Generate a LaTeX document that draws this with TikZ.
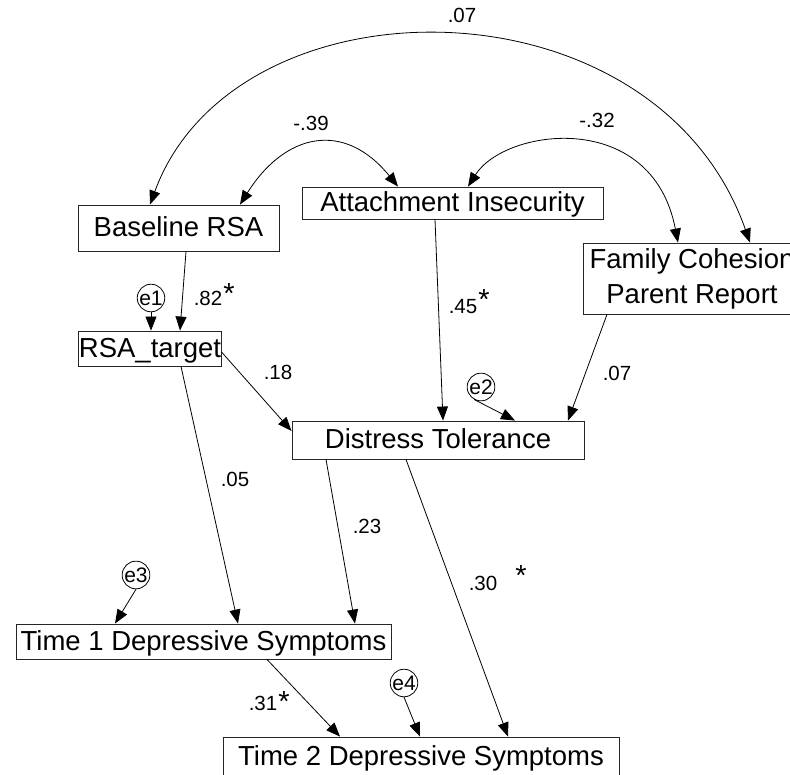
\documentclass[tikz,border=0pt]{standalone}
\usepackage{fontspec}
\setmainfont{Liberation Sans}
\usetikzlibrary{arrows.meta}

\tikzset{
  varbox/.style={draw=black!85, line width=0.9pt, inner sep=0pt,
    text height=19pt, text depth=2pt,
    font=\fontsize{27.5}{35}\selectfont},
  errc/.style={draw, circle, line width=0.8pt, minimum size=26pt, inner sep=0pt,
    font=\fontsize{21}{22}\selectfont},
  coef/.style={inner sep=0pt, font=\fontsize{20.5}{24}\selectfont},
  sig/.style={inner sep=0pt, anchor=north, font=\fontsize{29}{30}\selectfont},
  arr/.style={line width=0.8pt, -{Triangle[length=14pt,width=11pt]}},
  cov/.style={line width=0.8pt, {Triangle[length=14pt,width=11pt]}-{Triangle[length=14pt,width=11pt]}}
}

\begin{document}
\begin{tikzpicture}[x=1pt, y=-1pt]
\useasboundingbox (0,0) rectangle (790,774);
\clip (0,0) rectangle (790,774);

% observed variables
\node[varbox, minimum width=201pt, minimum height=46pt] (base) at (178.5,228) {Baseline RSA};
\node[varbox, minimum width=301pt, minimum height=32pt] (att)  at (452.5,203) {Attachment Insecurity};
\node[varbox, minimum width=218pt, minimum height=71pt, align=center, text height=, text depth=] (fam) at (692,278.5) {Family Cohesion\\Parent Report};
\node[varbox, minimum width=136pt, minimum height=35pt] (tgt)  at (150,348.5) {RSA\_target};
\node[varbox, minimum width=292pt, minimum height=38pt] (dist) at (438,440) {Distress Tolerance};
\node[varbox, minimum width=375pt, minimum height=35pt] (t1)   at (203.5,641.5) {Time 1 Depressive Symptoms};
\node[varbox, minimum width=396pt, minimum height=40pt] (t2)   at (421,757) {Time 2 Depressive Symptoms};

% error terms
\node[errc] (e1) at (151,298) {e1};
\node[errc] (e2) at (481,387) {e2};
\node[errc] (e3) at (136,575) {e3};
\node[errc] (e4) at (404,683) {e4};

% covariances among the exogenous variables
\draw[cov] ([xshift=-28.5pt]base.north) .. controls (235,-27) and (655,-27) .. ([xshift=58pt]fam.north);
\draw[cov] ([xshift=61.5pt]base.north) .. controls (285,133) and (344,120) .. ([xshift=-54.5pt]att.north);
\draw[cov] ([xshift=15.5pt]att.north) .. controls (505,128) and (652,108) .. ([xshift=-14pt]fam.north);

% regression paths
\draw[arr] ([xshift=7.5pt]base.south) -- ([xshift=30pt]tgt.north);
\draw[arr] (e1.south) -- ([xshift=1pt]tgt.north);
\draw[arr] ([xshift=-17.5pt]att.south) -- ([xshift=5pt]dist.north);
\draw[arr] ([xshift=-85pt]fam.south) -- ([xshift=130pt]dist.north);
\draw[arr] (e2.241) -- ([xshift=77pt]dist.north);
\draw[arr] ([yshift=-3.5pt]tgt.east) -- ([yshift=9pt]dist.west);
\draw[arr] ([xshift=31pt]tgt.south) -- ([xshift=34.5pt]t1.north);
\draw[arr] ([xshift=-112pt]dist.south) -- ([xshift=151.5pt]t1.north);
\draw[arr] ([xshift=-32pt]dist.south) -- ([xshift=87pt]t2.north);
\draw[arr] (e3.south) -- ([xshift=-88.5pt]t1.north);
\draw[arr] ([xshift=63.5pt]t1.south) -- ([xshift=-81pt]t2.north);
\draw[arr] (e4.south) -- ([xshift=-1pt]t2.north);

% coefficients
\node[coef] (c1) at (462,15) {.07};
\node[coef] (c2) at (311,123) {-.39};
\node[coef] (c3) at (597,120) {-.32};
\node[coef] (c4) at (208,298) {.82};
\node[sig]  (s4) at (229,283) {*};
\node[coef] (c5) at (463,307) {.45};
\node[sig]  (s5) at (484,289) {*};
\node[coef] (c6) at (278,372) {.18};
\node[coef] (c7) at (617,373) {.07};
\node[coef] (c8) at (235,479) {.05};
\node[coef] (c9) at (367,526) {.23};
\node[coef] (c10) at (483,583) {.30};
\node[sig]  (s10) at (521,565) {*};
\node[coef] (c11) at (263,703) {.31};
\node[sig]  (s11) at (284,691) {*};
\end{tikzpicture}
\end{document}
